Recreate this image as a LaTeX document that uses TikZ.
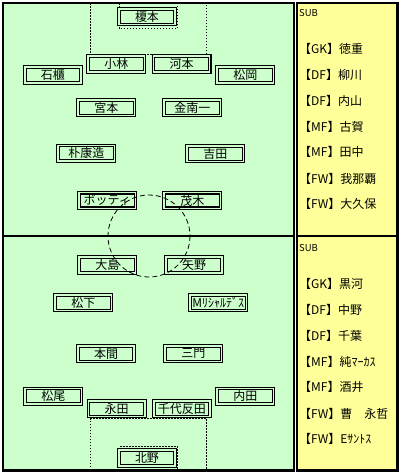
\documentclass[tikz,border=0pt]{standalone}
\usepackage{fontspec}
\setmainfont{Noto Sans CJK JP}
\usetikzlibrary{positioning}
\definecolor{pitch}{RGB}{204,255,204}
\definecolor{bench}{RGB}{255,255,153}

\begin{document}
\begin{tikzpicture}[x=1pt, y=-1pt, node distance=7.8pt]
    \tikzstyle{player} = [rectangle, draw=black, line width=1.1pt, double=pitch, double distance=1.5pt, fill=pitch, minimum width=56.3pt, minimum height=15.6pt, inner sep=0pt, font=\fontsize{12}{12}\selectfont]
    \tikzstyle{subname} = [anchor=west, inner sep=0pt, font=\fontsize{12}{12}\selectfont]
    \tikzstyle{subhead} = [anchor=west, inner sep=0pt, font=\fontsize{9.5}{10}\selectfont]
    \tikzstyle{area} = [line width=0.8pt, dash pattern=on 1.5pt off 1.5pt]
    \tikzstyle{cell} = [draw=black, line width=2.5pt]

    \useasboundingbox (0,0) rectangle (401,475);

    % pitch halves and bench lists
    \path [cell, fill=pitch] (3,3) rectangle (294,236);
    \path [cell, fill=pitch] (3,236) rectangle (294,470.5);
    \path [cell, fill=bench] (297,3) rectangle (397.5,236);
    \path [cell, fill=bench] (297,236) rectangle (397.5,470.5);

    % penalty and goal areas
    \path [draw, area] (90.5,3) -- (90.5,54.5) -- (206.5,54.5) -- (206.5,3);
    \path [draw, area] (119.5,3) -- (119.5,28.7) -- (177.5,28.7) -- (177.5,3);
    \path [draw, area] (90.5,470) -- (90.5,418.5) -- (206.5,418.5) -- (206.5,470);
    \path [draw, area] (119.5,470) -- (119.5,446.5) -- (177.5,446.5) -- (177.5,470);

    % upper team
    \node [player] (enomoto) at (147,16.7) {榎本};
    \node [player] (kobayashi) at (116.3,64) {小林};
    \node [player, right=of kobayashi] (kawamoto) {河本};
    \node [player] (ishibitsu) at (53,75) {石櫃};
    \node [player] (matsuoka) at (245.3,75) {松岡};
    \node [player] (miyamoto) at (106.3,107.7) {宮本};
    \node [player] (kimnamil) at (192.3,107.7) {金南一};
    \node [player] (park) at (86.3,153.2) {朴康造};
    \node [player] (yoshida) at (215.3,153.7) {吉田};
    \node [player] (botti) at (107.3,200.5) {ボッティ};
    \node [player] (motegi) at (192.3,200.5) {茂木};

    % lower team
    \node [player] (oshima) at (107.3,265) {大島};
    \node [player] (yano) at (194,265) {矢野};
    \node [player] (matsushita) at (83.3,302.8) {松下};
    \node [player] (richardes) at (218.3,302.8) {Mﾘｼｬﾙﾃﾞｽ};
    \node [player] (homma) at (106,353.7) {本間};
    \node [player] (mikado) at (193.3,353.7) {三門};
    \node [player] (matsuo) at (53.3,396.2) {松尾};
    \node [player] (uchida) at (245.3,396.2) {内田};
    \node [player] (nagata) at (116.7,408.7) {永田};
    \node [player, right=of nagata] (chiyotanda) {千代反田};
    \node [player] (kitano) at (147,458) {北野};

    % centre circle
    \path [draw, line width=0.8pt, dash pattern=on 5pt off 3pt] (149,236) circle (41);

    % substitutes
    \node [subhead] (subA) at (299,13) {SUB};
    \node [subname] (subA1) at (299,49) {【GK】徳重};
    \node [subname] (subA2) at (299,75) {【DF】柳川};
    \node [subname] (subA3) at (299,100.7) {【DF】内山};
    \node [subname] (subA4) at (299,126.7) {【MF】古賀};
    \node [subname] (subA5) at (299,152.3) {【MF】田中};
    \node [subname] (subA6) at (299,178.7) {【FW】我那覇};
    \node [subname] (subA7) at (299,204.3) {【FW】大久保};

    \node [subhead] (subB) at (299,248.3) {SUB};
    \node [subname] (subB1) at (299,284.3) {【GK】黒河};
    \node [subname] (subB2) at (299,310) {【DF】中野};
    \node [subname] (subB3) at (299,335.7) {【DF】千葉};
    \node [subname] (subB4) at (299,361.7) {【MF】純ﾏｰｶｽ};
    \node [subname] (subB5) at (299,387.3) {【MF】酒井};
    \node [subname] (subB6) at (299,413.7) {【FW】曹　永哲};
    \node [subname] (subB7) at (299,439.3) {【FW】Eｻﾝﾄｽ};
\end{tikzpicture}
\end{document}
